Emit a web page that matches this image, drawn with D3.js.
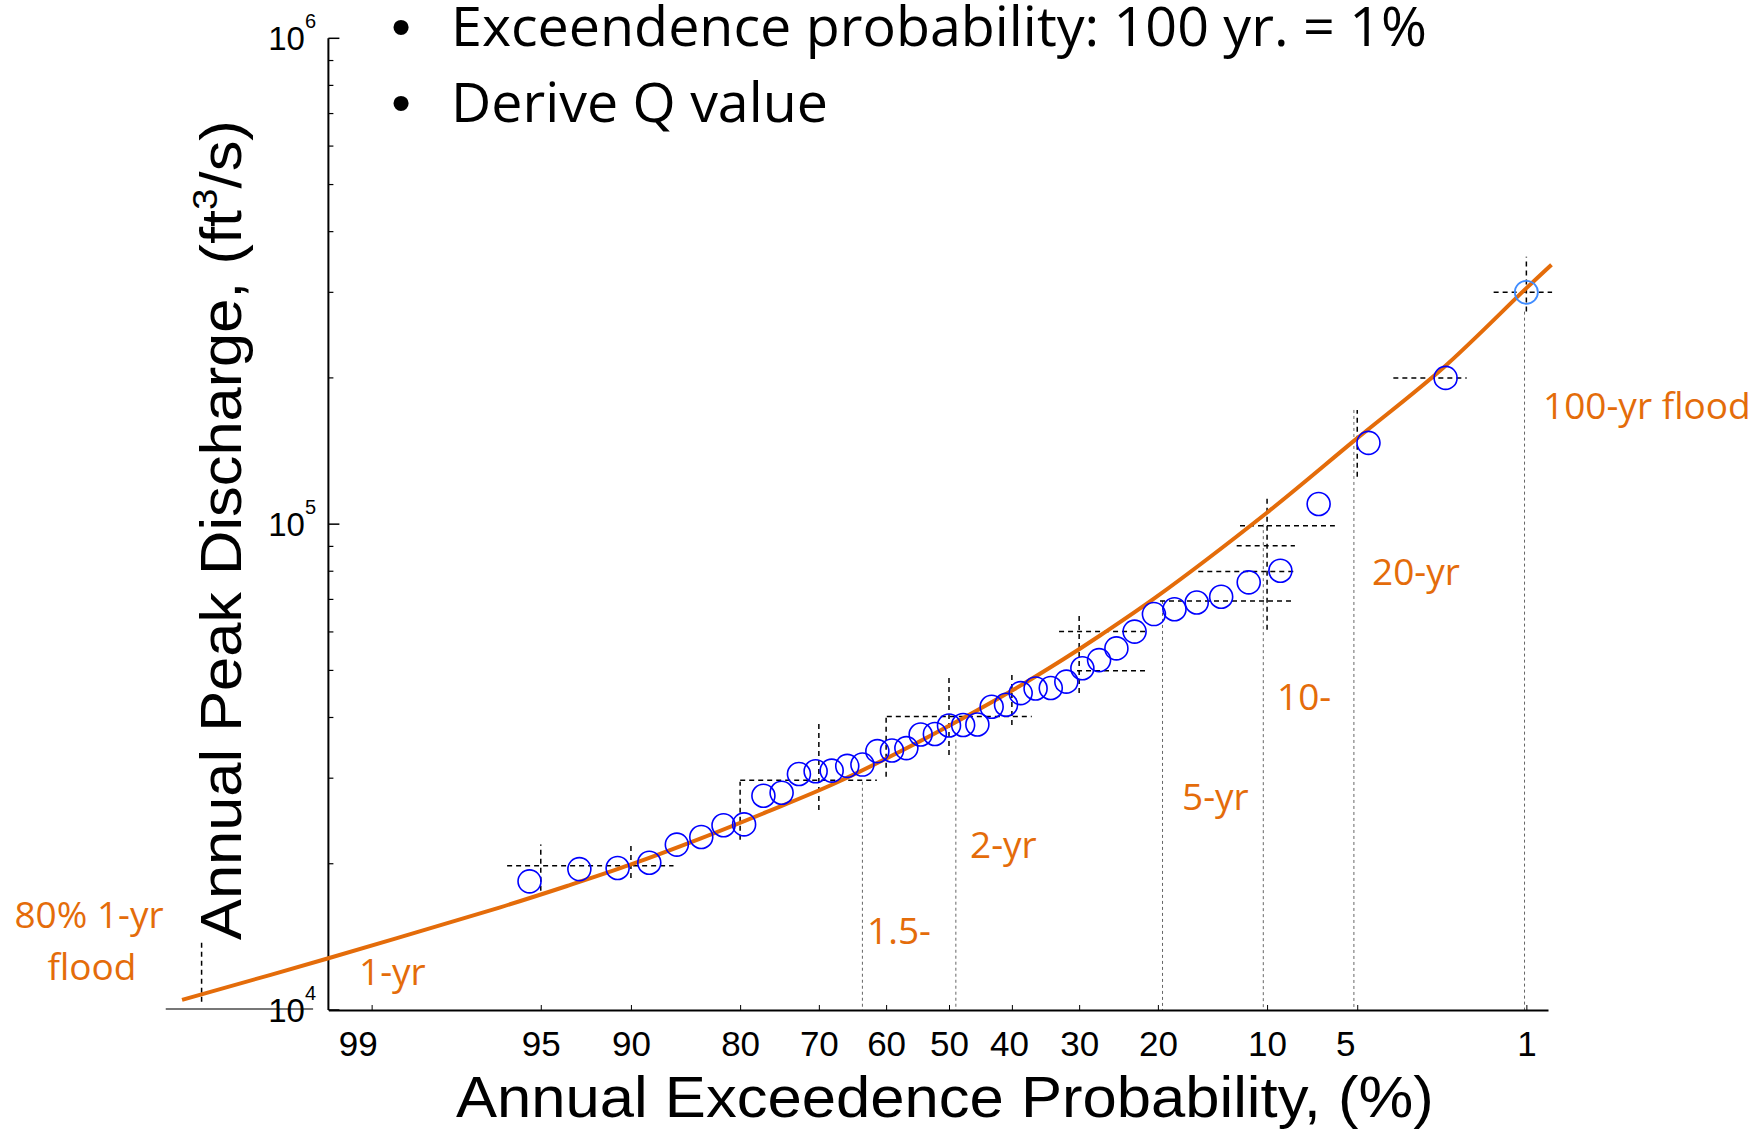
<!DOCTYPE html>
<html>
<head>
<meta charset="utf-8">
<script src="https://cdn.jsdelivr.net/npm/d3@7"></script>
<style>
  html,body{margin:0;padding:0;background:#fff;}
  svg{display:block;}
</style>
</head>
<body>
<svg id="chart" width="1762" height="1129"></svg>
<script>
/* ----- data ------------------------------------------------- */
const probTicks = [99, 95, 90, 80, 70, 60, 50, 40, 30, 20, 10, 5, 1];
const qMajor    = [1e4, 1e5, 1e6];
const qMinor    = [2e4,3e4,4e4,5e4,6e4,7e4,8e4,9e4, 2e5,3e5,4e5,5e5,6e5,7e5,8e5,9e5];

// observed annual peaks (exceedence %, ft3/s)
const obsProb = [2.27, 4.55, 6.82, 9.09, 11.36, 13.64, 15.91, 18.18, 20.45, 22.73,
                 25.00, 27.27, 29.55, 31.82, 34.09, 36.36, 38.64, 40.91, 43.18, 45.45,
                 47.73, 50.00, 52.27, 54.55, 56.82, 59.09, 61.36, 63.64, 65.91, 68.18,
                 70.45, 72.73, 75.00, 77.27, 79.55, 81.82, 84.09, 86.36, 88.64, 90.91,
                 93.18, 95.45];
const obsQ    = [200000, 147000, 110000, 80200, 75900, 70900, 69000, 66800, 65300, 60100,
                 55500, 52500, 50500, 47400, 46000, 45900, 44900, 42500, 42100, 38700,
                 38600, 38500, 37000, 36900, 34600, 34200, 34100, 32000, 31800, 31100,
                 31000, 30600, 28000, 27600, 24100, 24000, 22700, 21900, 20100, 19600,
                 19500, 18400];

// estimated 100-yr point
const estProb = [1];
const estQ    = [300000];

// fitted frequency curve
const fitProb = [99.9, 99.38, 96.47, 93.81, 90.04, 84.19, 76.85, 67.92, 57.81, 47.69,
                 39.77, 32.25, 27.14, 20.33, 10.08, 5.10, 2.32, 1.00, 0.76];
const fitQ    = [10490, 12780, 16270, 18000, 19910, 22530, 25570, 29190, 34040, 39900,
                 45600, 52700, 59000, 70500, 105200, 148900, 209900, 306000, 342000];

// dashed confidence marks: horizontal [Q, p from, p to], vertical [p, Q low, Q high]
const ciH = [[19800,96.25,86.65],[29700,79.99,61.44],[40200,59.89,36.94],
             [60100,32.87,21.13],[49900,30.30,21.13],[69500,19.76,8.17],
             [79900,15.76,8.17],[90300,12.32,8.17],[99200,12.05,6.00],
             [200000,3.67,1.85],[300000,1.41,0.755]];
const ciV = [[95,17600,21900],[90,18700,21900],[80,22400,29500],[70,25800,39200],
             [60,30200,40200],[50,33500,48900],[40,38600,48900],[30,44900,65600],
             [10,60600,114800],[5,125200,171800],[1,273800,355300],[99.87,10400,13940]];

// return-period drop lines [p, Q top]
const dropLines = [[63.64,29500],[48.9,36000],[19.48,69500],[10.27,100000],[5.14,171800],[1.02,273800]];

const annoText  = ['80% 1-yr','flood','1-yr','1.5-','2-yr','5-yr','10-','20-yr','100-yr flood'];
const titleText = ['Exceendence probability: 100 yr. = 1%','Derive Q value'];

/* ----- helpers ---------------------------------------------- */
function probit(p){
  const a=[-3.969683028665376e+01,2.209460984245205e+02,-2.759285104469687e+02,1.383577518672690e+02,-3.066479806614716e+01,2.506628277459239e+00],
        b=[-5.447609879822406e+01,1.615858368580409e+02,-1.556989798598866e+02,6.680131188771972e+01,-1.328068155288572e+01],
        c=[-7.784894002430293e-03,-3.223964580411365e-01,-2.400758277161838e+00,-2.549671324285212e+00,4.374664141464968e+00,2.938163982698783e+00],
        d=[7.784695709041462e-03,3.224671290700398e-01,2.445134137142996e+00,3.754408661907416e+00];
  const pl=0.02425;
  let q,r;
  if(p<pl){
    q=Math.sqrt(-2*Math.log(p));
    return (((((c[0]*q+c[1])*q+c[2])*q+c[3])*q+c[4])*q+c[5])/((((d[0]*q+d[1])*q+d[2])*q+d[3])*q+1);
  }
  if(p<=1-pl){
    q=p-0.5; r=q*q;
    return (((((a[0]*r+a[1])*r+a[2])*r+a[3])*r+a[4])*r+a[5])*q/(((((b[0]*r+b[1])*r+b[2])*r+b[3])*r+b[4])*r+1);
  }
  q=Math.sqrt(-2*Math.log(1-p));
  return -(((((c[0]*q+c[1])*q+c[2])*q+c[3])*q+c[4])*q+c[5])/((((d[0]*q+d[1])*q+d[2])*q+d[3])*q+1);
}
const zOf = pct => probit(1 - pct/100);

/* ----- scales ----------------------------------------------- */
const svg = d3.select('#chart');
const X0 = 328.4, X1 = 1548, Y0 = 1010, Y1 = 38.3;

const xz = d3.scaleLinear().domain([zOf(99.38), zOf(0.79)]).range([X0, X1]);
const x  = p => xz(zOf(p));
const y  = d3.scaleLog().domain([1e4, 1e6]).range([Y0, Y1]);

const ORANGE = '#e46c0a';
const sans  = '"Liberation Sans", Arial, sans-serif';
const human = '"Open Sans", "Noto Sans", sans-serif';

svg.append('rect').attr('width',1762).attr('height',1129).attr('fill','#fff');

/* ----- title bullets ---------------------------------------- */
const titleBase = [46, 122], titleW = [976, 377];
titleText.forEach((t,i)=>{
  svg.append('text').attr('x',401).attr('y',titleBase[i]).attr('text-anchor','middle')
    .style('font-family',sans).style('font-size','56px').text('\u2022');
  const g = svg.append('g').attr('transform',`translate(451,${titleBase[i]})`);
  const tx = g.append('text').style('font-family',human).style('font-size','54px')
    .style('fill','#000').text(t);
  const w = tx.node().getBBox().width;
  tx.attr('transform',`scale(${titleW[i]/w},1)`);
});

/* ----- return-period drop lines ----------------------------- */
svg.append('g').selectAll('line').data(dropLines).join('line')
  .attr('x1',d=>x(d[0])).attr('x2',d=>x(d[0]))
  .attr('y1',d=>y(d[1])).attr('y2',y(1e4))
  .attr('stroke','#666').attr('stroke-width',1).attr('stroke-dasharray','3,3');

/* ----- dashed confidence marks ------------------------------ */
const ci = svg.append('g').attr('stroke','#000').attr('stroke-width',1.5).attr('stroke-dasharray','5,4');
ci.selectAll('.h').data(ciH).join('line').attr('class','h')
  .attr('x1',d=>x(d[1])).attr('x2',d=>x(d[2]))
  .attr('y1',d=>y(d[0])).attr('y2',d=>y(d[0]));
ci.selectAll('.v').data(ciV).join('line').attr('class','v')
  .attr('x1',d=>x(d[0])).attr('x2',d=>x(d[0]))
  .attr('y1',d=>y(d[1])).attr('y2',d=>y(d[2]));

// grey stub left of the origin
svg.append('line')
  .attr('x1',x(99.92)).attr('x2',x(99.48)).attr('y1',y(1e4)-1).attr('y2',y(1e4)-1)
  .attr('stroke','#777').attr('stroke-width',2);

/* ----- axes -------------------------------------------------- */
const xAxis = svg.append('g').attr('transform',`translate(0,${Y0})`)
  .call(d3.axisBottom(xz)
    .tickValues(probTicks.map(zOf))
    .tickFormat((d,i)=>probTicks[i])
    .tickSizeInner(-5).tickSizeOuter(0).tickPadding(21));
xAxis.select('.domain').attr('stroke-width',2);
const labelShift = {99:-14, 5:-12, 40:-3};
xAxis.selectAll('.tick text')
  .attr('dx',(d,i)=>labelShift[probTicks[i]]||0)
  .style('font-family',sans).style('font-size','35px').style('fill','#000');

const yAx = svg.append('g').attr('transform',`translate(${X0},0)`);
yAx.append('line').attr('y1',Y0).attr('y2',Y1).attr('stroke','#000').attr('stroke-width',2);
yAx.selectAll('.minor').data(qMinor).join('line').attr('class','minor')
  .attr('x1',0).attr('x2',5).attr('y1',d=>y(d)).attr('y2',d=>y(d))
  .attr('stroke','#000').attr('stroke-width',1.2);
yAx.selectAll('.major').data(qMajor).join('line').attr('class','major')
  .attr('x1',0).attr('x2',11).attr('y1',d=>y(d)).attr('y2',d=>y(d))
  .attr('stroke','#000').attr('stroke-width',1.5);

const yl = svg.append('g').selectAll('text').data(qMajor).join('text')
  .attr('x',316).attr('y',d=>y(d)+12).attr('text-anchor','end')
  .style('font-family',sans).style('font-size','33px').style('fill','#000');
yl.append('tspan').text('10');
yl.append('tspan').attr('dy',-22).style('font-size','20px').text(d=>Math.round(Math.log10(d)));

/* axis titles */
const xt = svg.append('g').attr('transform',`translate(456,1116.7)`)
  .append('text').style('font-family',sans).style('font-size','58px').style('fill','#000')
  .text('Annual Exceedence Probability, (%)');
xt.attr('transform',`scale(${978/xt.node().getBBox().width},1)`);

const ytG = svg.append('g').attr('transform','translate(241,940) rotate(-90)');
const yt = ytG.append('text').style('font-family',sans).style('font-size','57px').style('fill','#000');
yt.append('tspan').text('Annual Peak Discharge, (ft');
yt.append('tspan').attr('dy',-24).style('font-size','36px').text('3');
yt.append('tspan').attr('dy',24).text('/s)');
yt.attr('transform',`scale(${820/yt.node().getBBox().width},1)`);

/* ----- fitted curve ---------------------------------------- */
const fit = fitProb.map((p,i)=>({p, q:fitQ[i]}));
svg.append('path').datum(fit)
  .attr('fill','none').attr('stroke',ORANGE).attr('stroke-width',4)
  .attr('d',d3.line().x(d=>x(d.p)).y(d=>y(d.q)).curve(d3.curveCatmullRom.alpha(0.5)));

/* ----- observations ---------------------------------------- */
const obs = obsProb.map((p,i)=>({p, q:obsQ[i]}));
svg.append('g').selectAll('circle').data(obs).join('circle')
  .attr('cx',d=>x(d.p)).attr('cy',d=>y(d.q)).attr('r',11.5)
  .attr('fill','none').attr('stroke','#0000ff').attr('stroke-width',1.6);

svg.append('g').selectAll('circle').data(estProb.map((p,i)=>({p,q:estQ[i]}))).join('circle')
  .attr('cx',d=>x(d.p)).attr('cy',d=>y(d.q)).attr('r',11.5)
  .attr('fill','none').attr('stroke','#3f8cff').attr('stroke-width',1.8);

/* ----- orange annotations ------------------------------------ */
const annoPos = [[89,928,'middle'],[92,980,'middle'],[359,985,'start'],[867,944,'start'],
                 [970,858,'start'],[1182,810,'start'],[1277,710,'start'],[1372,585,'start'],
                 [1543,419,'start']];
svg.append('g').selectAll('text').data(annoText).join('text')
  .attr('x',(d,i)=>annoPos[i][0]).attr('y',(d,i)=>annoPos[i][1])
  .attr('text-anchor',(d,i)=>annoPos[i][2])
  .style('font-family',human).style('font-size','37px').style('fill',ORANGE)
  .text(d=>d);
</script>
</body>
</html>
